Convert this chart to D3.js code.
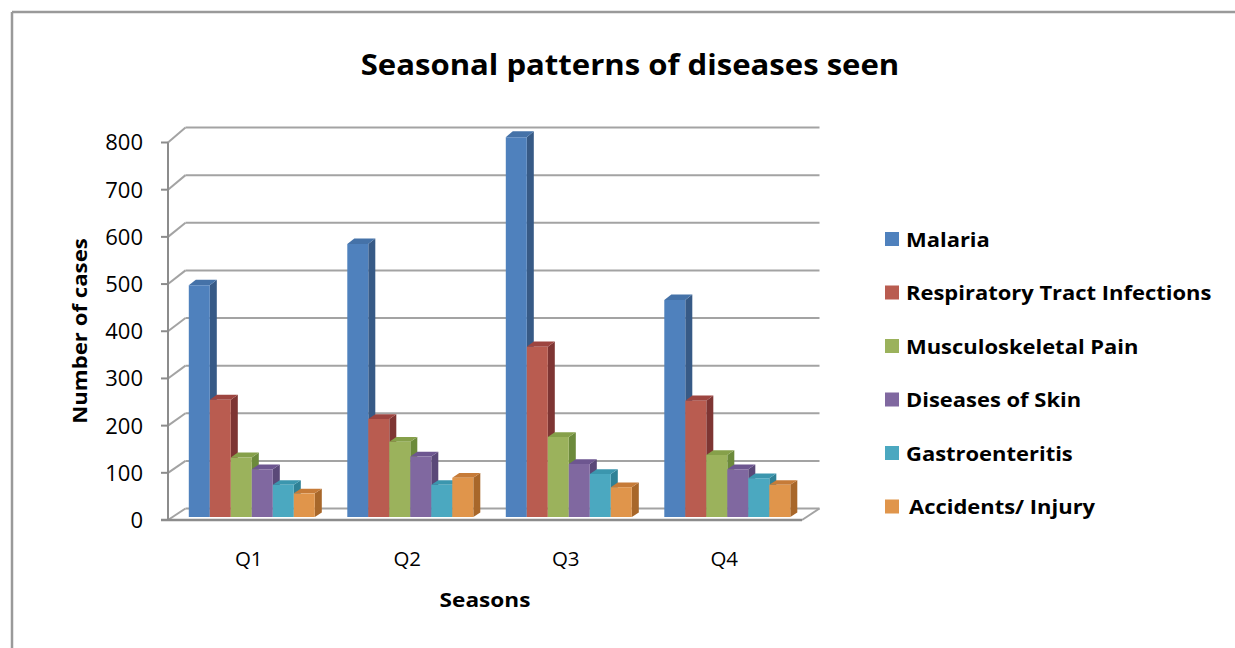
<!DOCTYPE html>
<html>
<head>
<meta charset="utf-8">
<script src="https://cdn.jsdelivr.net/npm/d3@7/dist/d3.min.js"></script>
<style>
html,body{margin:0;padding:0;background:#fff;overflow:hidden;}
svg{display:block;}
text{font-family:"Open Sans","DejaVu Sans",sans-serif;fill:#000;}
</style>
</head>
<body>
<svg id="chart" width="1235" height="648"></svg>
<script>
const quarters = ["Q1", "Q2", "Q3", "Q4"];
const seriesNames = ["Malaria", "Respiratory Tract Infections", "Musculoskeletal Pain", "Diseases of Skin", "Gastroenteritis", "Accidents/ Injury"];
const malaria = [490, 577, 803, 459];
const respiratory = [248, 207, 360, 246];
const musculoskeletal = [126, 159, 169, 131];
const skin = [101, 128, 112, 101];
const gastro = [68, 68, 91, 82];
const accidents = [50, 83, 63, 68];
const yTicks = [0, 100, 200, 300, 400, 500, 600, 700, 800];

const seriesValues = [malaria, respiratory, musculoskeletal, skin, gastro, accidents];
const frontColors = ["#4f81bd", "#b95c50", "#9bb25c", "#8068a0", "#4ba8c0", "#e0954b"];
const sideColors  = ["#375a86", "#7e3533", "#6c8a3b", "#5a4878", "#2f8196", "#a8672a"];
const topColors   = ["#4572a8", "#9d4540", "#86a04a", "#6d5690", "#3b96ae", "#c67b38"];

const svg = d3.select("#chart");

function stretch(sel, k) {
  sel.each(function() {
    const w = this.getComputedTextLength();
    d3.select(this).attr("textLength", w * k).attr("lengthAdjust", "spacingAndGlyphs");
  });
}

// outer border (top and left edges visible)
svg.append("line").attr("x1", 12).attr("x2", 1235).attr("y1", 12).attr("y2", 12)
  .attr("stroke", "#9a9a9a").attr("stroke-width", 2.5);
svg.append("line").attr("x1", 12).attr("x2", 12).attr("y1", 12).attr("y2", 648)
  .attr("stroke", "#9a9a9a").attr("stroke-width", 2.5);

// 3D geometry
const DX = 17.5;
const yF = d3.scaleLinear().domain([0, 800]).range([520, 142.5]);
const yB = d3.scaleLinear().domain([0, 800]).range([508.5, 127.5]);
const x0 = d3.scaleBand().domain(quarters).range([168, 802]).paddingInner(0.205).paddingOuter(0.1025);
const x1 = d3.scaleBand().domain(seriesNames).range([0, x0.bandwidth()]);
function P(x, v, f) { return [x + DX * f, yF(v) * (1 - f) + yB(v) * f]; }

const gridColor = "#a3a3a3";
const g = svg.append("g");

yTicks.forEach(t => {
  g.append("line").attr("x1", 168 + DX).attr("x2", 802 + DX)
    .attr("y1", yB(t)).attr("y2", yB(t))
    .attr("stroke", gridColor).attr("stroke-width", 2);
  g.append("line").attr("x1", 168).attr("y1", yF(t)).attr("x2", 168 + DX).attr("y2", yB(t))
    .attr("stroke", gridColor).attr("stroke-width", 2);
  g.append("line").attr("x1", 161).attr("x2", 168).attr("y1", yF(t)).attr("y2", yF(t))
    .attr("stroke", "#8c8c8c").attr("stroke-width", 2);
});
g.append("line").attr("x1", 168).attr("x2", 168).attr("y1", yF(800)).attr("y2", yF(0))
  .attr("stroke", "#8c8c8c").attr("stroke-width", 2);
g.append("line").attr("x1", 802).attr("y1", yF(0)).attr("x2", 802 + DX).attr("y2", yB(0))
  .attr("stroke", gridColor).attr("stroke-width", 2);

// bars
const f1 = 0.26, f2 = 0.66;
const bars = svg.append("g");
const poly = pts => pts.map(p => p.join(",")).join(" ");
quarters.forEach((q, qi) => {
  seriesNames.forEach((s, si) => {
    const v = seriesValues[si][qi];
    const xl = x0(q) + x1(s);
    const xr = xl + x1.bandwidth();
    bars.append("polygon")
      .attr("points", poly([P(xr, 0, f1), P(xr, v, f1), P(xr, v, f2), P(xr, 0, f2)]))
      .attr("fill", sideColors[si]);
    bars.append("polygon")
      .attr("points", poly([P(xl, v, f1), P(xr, v, f1), P(xr, v, f2), P(xl, v, f2)]))
      .attr("fill", topColors[si]);
    bars.append("polygon")
      .attr("points", poly([P(xl, 0, f1), P(xr, 0, f1), P(xr, v, f1), P(xl, v, f1)]))
      .attr("fill", frontColors[si]);
  });
});

svg.append("line").attr("x1", 161).attr("x2", 802).attr("y1", yF(0)).attr("y2", yF(0))
  .attr("stroke", "#8c8c8c").attr("stroke-width", 2.5);

// y tick labels
svg.append("g").selectAll("text").data(yTicks).join("text")
  .attr("x", 143).attr("y", d => yF(d)).attr("dy", "0.36em")
  .attr("text-anchor", "end").attr("font-size", 22).text(d => d);

// x category labels
svg.append("g").selectAll("text").data(quarters).join("text")
  .attr("x", d => x0(d) + x0.bandwidth() / 2 + 1.5).attr("y", 566)
  .attr("text-anchor", "middle").attr("font-size", 20.5).text(d => d);

// axis titles
stretch(svg.append("text").attr("x", 485).attr("y", 607).attr("text-anchor", "middle")
  .attr("font-size", 20).attr("font-weight", "bold").text("Seasons"), 1.13);
stretch(svg.append("text").attr("transform", "translate(87,331) rotate(-90)").attr("text-anchor", "middle")
  .attr("font-size", 20).attr("font-weight", "bold").text("Number of cases"), 1.11);

// title
stretch(svg.append("text").attr("x", 630).attr("y", 75).attr("text-anchor", "middle")
  .attr("font-size", 28).attr("font-weight", "bold").text("Seasonal patterns of diseases seen"), 1.11);

// legend
const leg = svg.append("g");
seriesNames.forEach((s, i) => {
  const cy = 239 + 53.5 * i;
  leg.append("rect").attr("x", 885).attr("y", cy - 7).attr("width", 14).attr("height", 14)
    .attr("fill", frontColors[i]);
  stretch(leg.append("text").attr("x", i === 5 ? 909 : 906).attr("y", cy + 7.5)
    .attr("font-size", 19.5).attr("font-weight", "bold").text(s), 1.125);
});
</script>
</body>
</html>
